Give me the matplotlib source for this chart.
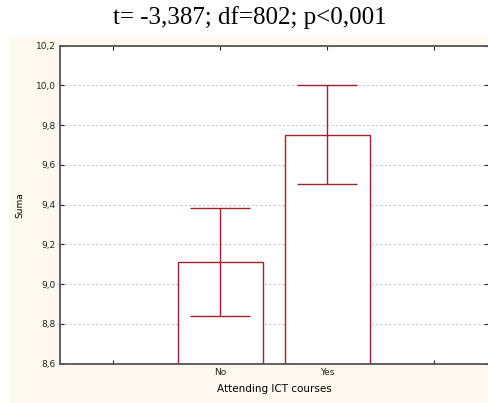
import matplotlib
matplotlib.use("Agg")
import matplotlib.pyplot as plt
from matplotlib.patches import Rectangle
from matplotlib.ticker import FuncFormatter

# data
groups = ["No", "Yes"]
means = [9.11, 9.752]
upper = [9.385, 10.002]
lower = [8.838, 9.504]
title = "t= -3,387; df=802; p<0,001"

dark_red = "#A31F2A"
cream = "#FDF9EE"

fig = plt.figure(figsize=(4.89, 4.03), dpi=100)
fig.patch.set_facecolor("white")

# cream panel behind the plot (title area stays white)
fig.patches.append(Rectangle((9 / 489, 0), 480 / 489, 366 / 403,
                             transform=fig.transFigure, facecolor=cream,
                             edgecolor="none", zorder=-10))

ax = fig.add_axes([60 / 489, 39.3 / 403, 428 / 489, 318 / 403])
ax.set_facecolor("white")

x = [1, 2]
err_lo = [m - l for m, l in zip(means, lower)]
err_hi = [u - m for m, u in zip(means, upper)]
ax.bar(x, [m - 8.6 for m in means], bottom=8.6, width=0.8, color="white",
       edgecolor=dark_red, linewidth=1.0, zorder=2)
ax.errorbar(x, means, yerr=[err_lo, err_hi], fmt="none", ecolor=dark_red,
            elinewidth=1.0, capsize=21.5, capthick=1.0, zorder=3)

ax.set_xlim(-0.5, 3.5)
ax.set_ylim(8.6, 10.2)
ax.set_xticks([0, 1, 2, 3])
ax.set_xticklabels(["", groups[0], groups[1], ""])
ax.set_yticks([8.6, 8.8, 9.0, 9.2, 9.4, 9.6, 9.8, 10.0, 10.2])
ax.yaxis.set_major_formatter(FuncFormatter(lambda v, p: f"{v:.1f}".replace(".", ",")))

ax.grid(axis="y", color="#CCCCCC", linestyle=(0, (2, 2)), linewidth=0.8, zorder=1)
ax.set_axisbelow(True)

ax.tick_params(axis="both", direction="in", length=3, width=0.8, labelsize=6.5,
               colors="#222222", top=True, right=True, pad=3)
for side in ["left", "bottom", "top"]:
    ax.spines[side].set_color("#555555")
    ax.spines[side].set_linewidth(1.3)
ax.spines["right"].set_visible(False)

ax.set_ylabel("Suma", fontsize=6.5, labelpad=8)
ax.set_xlabel("Attending ICT courses", fontsize=7.5, labelpad=5)

fig.text(250 / 489, 1 - 18 / 403, title, ha="center", va="center",
         fontsize=18, family="Liberation Serif")

fig.savefig("out.png", dpi=100)
